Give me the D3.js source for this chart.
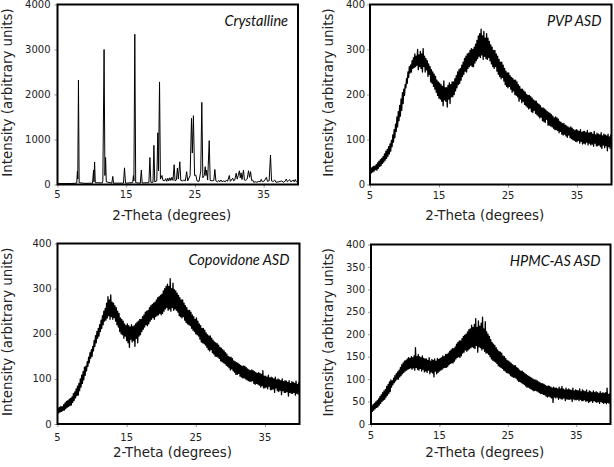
<!DOCTYPE html>
<html><head><meta charset="utf-8">
<script src="https://cdn.jsdelivr.net/npm/d3@7"></script>
<style>body{margin:0;background:#fff}svg{display:block}</style>
</head><body><svg id="c" width="614" height="467"></svg>
<script>
// ---------- data ----------
const panelLabels = ["Crystalline", "PVP ASD", "Copovidone ASD", "HPMC-AS ASD"];
const xTitle = "2-Theta (degrees)";
const yTitle = "Intensity (arbitrary units)";
const xTicks = [5, 15, 25, 35];
const yTicksCrystalline = [0, 1000, 2000, 3000, 4000];
const yTicksAmorphous = [0, 100, 200, 300, 400];
const yTicksHpmc = [0, 50, 100, 150, 200, 250, 300, 350, 400];

// Crystalline pattern: explicit (2θ, counts) points
const crystallineTheta = [5.0,7.0,7.8,7.9,7.95,8.05,8.15,9.0,10.1,10.25,10.3,10.4,10.5,11.5,11.6,11.78,11.9,12.0,12.1,12.9,13.05,13.15,14.6,14.75,14.9,15.95,16.05,16.12,16.25,16.38,17.05,17.2,17.32,18.3,18.45,18.58,18.9,19.03,19.15,19.45,19.6,19.7,19.85,19.98,20.2,20.35,20.6,20.75,20.9,21.05,21.2,21.35,21.5,21.65,21.8,21.98,22.1,22.3,22.45,22.58,22.8,22.95,23.2,23.4,23.6,23.8,23.95,24.3,24.5,24.62,24.78,24.95,25.13,25.3,25.6,25.85,26.0,26.15,26.35,26.5,26.6,26.7,26.85,27.08,27.22,27.5,27.75,27.9,28.05,28.3,28.5,28.6,28.8,28.95,29.2,29.4,29.6,29.75,30.0,30.15,30.3,30.5,30.65,30.8,31.0,31.15,31.3,31.47,31.6,31.72,31.85,32.07,32.2,32.4,32.6,32.8,32.95,33.1,33.25,33.4,33.55,33.8,34.0,34.3,34.5,34.65,34.8,35.1,35.4,35.55,35.8,36.0,36.15,36.4,36.6,36.8,37.2,37.6,37.9,38.1,38.3,38.45,38.65,38.8,38.95,39.15,39.3,39.45,39.6,39.75,40.0];
const crystallineCounts = [20,22,30,300,120,2320,40,25,30,320,60,500,40,35,80,3000,200,600,60,30,180,30,30,370,30,40,200,80,3340,40,30,320,35,40,600,50,50,870,60,80,1150,300,2280,120,200,90,80,130,70,140,80,150,90,160,90,440,80,100,365,120,505,90,80,100,80,285,80,200,1470,700,1530,200,210,80,70,300,1825,150,200,395,200,320,100,975,90,80,90,335,80,60,90,60,100,60,80,60,100,70,200,70,100,140,80,100,250,120,200,305,150,260,110,320,100,90,120,305,160,285,90,100,50,60,50,70,60,115,60,80,160,70,80,655,80,70,100,50,60,78,50,70,122,60,90,107,60,80,100,60,110,60,70];

// Amorphous patterns sampled every 0.1° from 5° to 40°
const twoTheta = d3.range(351).map(i => Math.round((5 + i * 0.1) * 10) / 10);

const pvpCounts = [
22,36,26,38,28,40,30,41,33,44,
32,48,36,52,40,55,42,58,47,62,
50,68,54,74,58,78,63,84,68,90,
74,98,84,110,94,122,104,134,118,150,
128,162,142,176,152,190,165,204,180,212,
198,222,215,236,225,250,238,262,248,266,
250,275,258,282,260,290,262,285,265,300,
255,288,262,296,258,290,250,302,262,285,
250,280,255,275,240,268,245,262,228,255,
225,250,218,245,212,240,205,232,198,228,
192,225,190,222,185,218,175,230,188,215,
185,215,172,220,190,226,180,222,195,228,
195,228,200,235,208,242,215,250,222,255,
225,258,232,265,240,272,245,280,252,285,
250,290,258,292,262,298,265,302,262,300,
262,305,270,312,275,320,280,330,285,335,
282,345,288,330,278,340,285,325,280,335,
278,325,282,318,275,310,268,305,262,298,
258,298,262,290,252,285,245,278,240,272,
235,272,238,265,230,258,222,252,218,248,
215,248,218,242,212,238,205,236,208,232,
200,232,198,228,195,222,185,218,190,212,
182,212,185,208,178,205,175,200,172,198,
168,198,170,195,162,192,160,188,165,186,
158,185,155,180,152,178,148,175,150,170,
142,170,140,168,138,165,145,162,132,160,
132,158,130,155,128,152,125,148,122,150,
122,148,120,145,115,140,118,138,112,135,
110,136,112,132,108,130,105,128,110,126,
104,128,102,125,100,122,98,120,96,122,
95,120,98,118,92,122,96,116,90,118,
92,118,90,115,94,120,88,114,92,116,
88,115,90,112,85,118,92,110,86,114,
86,112,88,110,84,115,80,108,88,112,
82,110,86,108,75,112,84,106,80,110,
92];

const copovidoneCounts = [
22,35,25,37,27,39,28,38,30,43,
31,47,34,50,37,52,39,55,41,57,
42,60,48,67,52,71,58,78,63,84,
64,90,74,100,82,108,90,116,98,126,
108,128,118,138,128,148,136,158,146,165,
150,172,162,185,172,196,180,205,190,212,
195,220,205,230,212,240,220,250,228,256,
230,268,235,282,240,275,232,286,238,270,
232,268,236,262,228,258,220,250,215,245,
205,235,200,232,198,228,190,222,195,218,
185,222,180,218,170,215,188,220,182,216,
185,218,172,222,190,225,180,228,195,232,
198,232,205,238,210,242,215,248,220,250,
218,252,222,258,228,262,232,265,236,268,
232,270,238,275,240,280,242,282,245,285,
242,288,245,295,250,300,255,305,258,310,
252,305,255,322,250,300,258,312,252,298,
255,295,252,290,248,285,240,280,238,275,
235,275,238,268,230,262,225,258,222,252,
220,252,218,248,212,242,208,238,205,232,
200,235,198,228,195,222,188,218,182,212,
180,212,178,208,175,202,170,198,165,195,
162,195,165,190,158,186,155,182,150,180,
150,178,148,175,145,170,140,168,138,165,
136,162,134,158,130,155,128,150,125,148,
120,148,122,145,118,140,115,138,110,136,
110,135,112,132,106,130,104,128,102,128,
102,128,100,125,98,122,96,120,95,118,
94,120,96,118,90,116,88,114,90,112,
88,114,86,112,82,110,85,118,80,106,
80,106,82,104,78,108,84,102,76,104,
76,102,78,100,70,104,80,98,74,100,
72,98,75,96,65,100,74,94,70,96,
70,95,72,92,62,96,70,90,68,94,
68,92,70,90,64,95,68,88,66,92,
78];

const hpmcasCounts = [
25,39,28,43,31,46,34,49,37,52,
38,56,42,61,46,65,50,70,53,74,
55,77,60,84,64,88,68,94,72,98,
82,96,88,102,92,108,96,112,100,116,
100,120,105,126,108,132,112,136,115,140,
118,142,120,145,122,148,124,146,125,150,
122,148,125,152,120,170,126,150,122,155,
120,150,124,148,118,152,122,146,116,145,
118,145,115,142,120,148,112,140,116,144,
114,142,105,145,118,140,112,146,115,144,
118,146,120,148,122,152,125,150,126,155,
126,155,128,158,132,162,135,165,136,168,
136,168,140,172,145,178,148,182,150,185,
148,185,152,190,158,195,160,198,165,200,
162,205,165,210,168,212,170,220,172,215,
170,222,168,235,175,215,160,230,172,218,
170,225,165,238,168,212,162,228,158,205,
158,200,155,195,150,188,145,182,142,178,
140,175,138,170,135,165,130,162,128,160,
126,158,124,152,120,150,118,146,115,142,
114,140,112,138,108,135,106,132,104,130,
104,130,102,126,98,124,95,120,94,118,
92,118,90,115,88,112,85,110,82,108,
82,106,80,104,78,102,76,100,74,98,
75,98,74,96,72,94,70,92,68,90,
68,90,66,88,65,86,62,84,60,85,
62,84,60,82,58,80,48,82,60,80,
58,80,60,78,55,82,58,78,56,84,
56,78,58,76,52,80,56,76,55,78,
55,76,56,75,50,80,56,74,54,76,
54,75,55,74,52,78,55,72,52,76,
52,74,54,72,50,76,52,70,48,74,
50,72,52,70,48,74,52,70,50,72,
48,70,50,68,46,72,50,68,48,70,
46,68,48,70,45,80,48,66,46,68,
56];

// ---------- layout ----------
const panels = [
  {label: panelLabels[0], xs: crystallineTheta, ys: crystallineCounts, yMax: 4000, yTicks: yTicksCrystalline,
   l: 57.5, r: 298, t: 4.5, b: 184.5, xTickBase: 198, xTitleBase: 220, yTitleX: 12, yLabR: 50.5, lw: 1},
  {label: panelLabels[1], xs: twoTheta, ys: pvpCounts, yMax: 400, yTicks: yTicksAmorphous,
   l: 370, r: 611.5, t: 4.5, b: 184.5, xTickBase: 199, xTitleBase: 220, yTitleX: 333, yLabR: 365, lw: 1.3},
  {label: panelLabels[2], xs: twoTheta, ys: copovidoneCounts, yMax: 400, yTicks: yTicksAmorphous,
   l: 57.5, r: 299.5, t: 243.5, b: 424, xTickBase: 441, xTitleBase: 457, yTitleX: 12, yLabR: 51.5, lw: 1.3},
  {label: panelLabels[3], xs: twoTheta, ys: hpmcasCounts, yMax: 400, yTicks: yTicksHpmc,
   l: 371, r: 610.5, t: 244.5, b: 424, xTickBase: 439, xTitleBase: 457, yTitleX: 333, yLabR: 365, lw: 1.3}
];

const svg = d3.select("#c");
const tickFont = "DejaVu Sans, Verdana, sans-serif";

panels.forEach((p, i) => {
  const x = d3.scaleLinear().domain([5, 40]).range([p.l, p.r]);
  const y = d3.scaleLinear().domain([0, p.yMax]).range([p.b, p.t]);
  const g = svg.append("g");

  g.append("clipPath").attr("id", "clip" + i)
    .append("rect").attr("x", p.l).attr("y", p.t).attr("width", p.r - p.l).attr("height", p.b - p.t);

  // small outward ticks
  const ya = d3.axisLeft(y).tickValues(p.yTicks).tickSize(3).tickFormat("");
  g.append("g").attr("transform", `translate(${p.l},0)`).call(ya)
    .call(s => s.select(".domain").remove())
    .selectAll("line").attr("stroke", "#999");
  const xa = d3.axisBottom(x).tickValues(xTicks).tickSize(3).tickFormat("");
  g.append("g").attr("transform", `translate(0,${p.b})`).call(xa)
    .call(s => s.select(".domain").remove())
    .selectAll("line").attr("stroke", "#999");

  // tick labels
  g.selectAll(".yl").data(p.yTicks).join("text")
    .attr("x", p.yLabR).attr("y", d => y(d)).attr("dy", "0.36em")
    .attr("text-anchor", "end").attr("font-family", tickFont).attr("font-size", 10).attr("fill", "#222")
    .text(d => d);
  g.selectAll(".xl").data(xTicks).join("text")
    .attr("x", d => x(d)).attr("y", p.xTickBase)
    .attr("text-anchor", "middle").attr("font-family", tickFont).attr("font-size", 10).attr("fill", "#222")
    .text(d => d);

  // data line
  const line = d3.line().x(d => x(d[0])).y(d => y(d[1]));
  const pts = p.xs.map((v, k) => [v, p.ys[k]]);
  g.append("path").datum(pts).attr("d", line)
    .attr("fill", "none").attr("stroke", "#000").attr("stroke-width", p.lw)
    .attr("stroke-linejoin", "round")
    .attr("clip-path", `url(#clip${i})`);

  // frame
  g.append("rect").attr("x", p.l).attr("y", p.t).attr("width", p.r - p.l).attr("height", p.b - p.t)
    .attr("fill", "none").attr("stroke", "#000").attr("stroke-width", 2);

  // panel label
  g.append("text").attr("x", p.r - 10).attr("y", p.t + 21.5)
    .attr("text-anchor", "end").attr("font-family", "Lato, 'Open Sans', sans-serif")
    .attr("font-style", "italic").attr("font-size", 14.5).attr("fill", "#111")
    .text(p.label);

  // axis titles
  g.append("text").attr("x", (p.l + p.r) / 2 - 6).attr("y", p.xTitleBase)
    .attr("text-anchor", "middle").attr("font-family", tickFont).attr("font-size", 13.4).attr("fill", "#222")
    .text(xTitle);
  g.append("text").attr("transform", `translate(${p.yTitleX},${(p.t + p.b) / 2 - 2}) rotate(-90)`)
    .attr("text-anchor", "middle").attr("font-family", tickFont).attr("font-size", 13.4).attr("fill", "#222")
    .text(yTitle);
});
</script>
</body></html>
